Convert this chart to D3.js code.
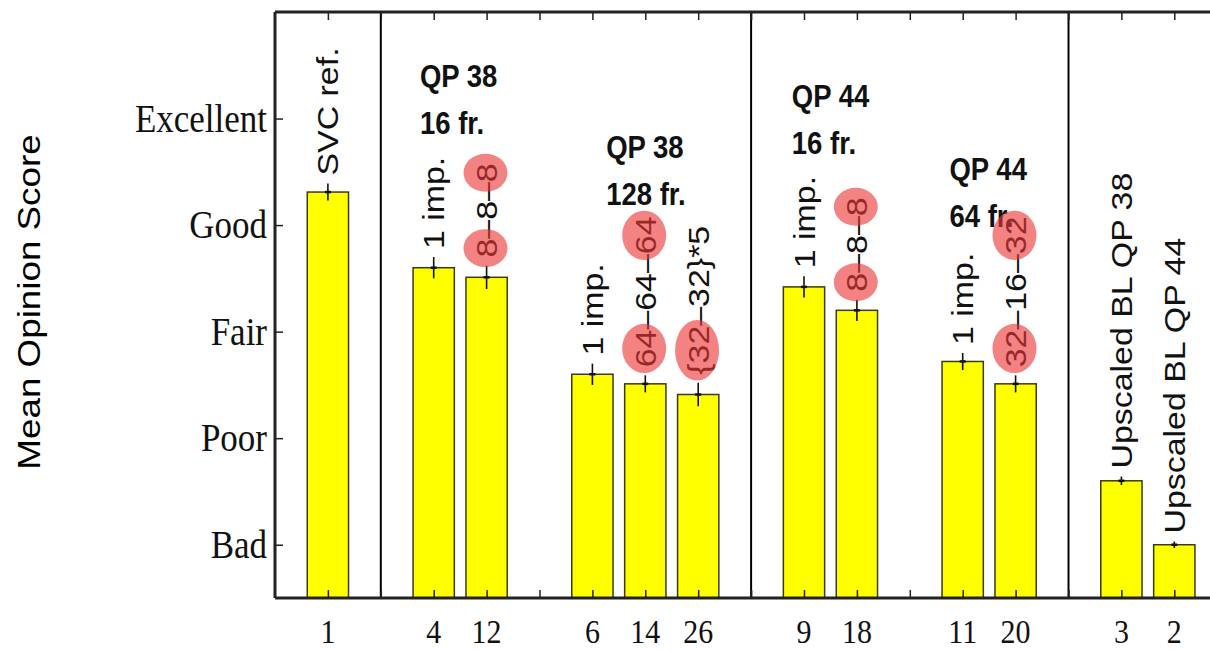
<!DOCTYPE html>
<html>
<head>
<meta charset="utf-8">
<script src="https://cdn.jsdelivr.net/npm/d3@7"></script>
<style>
  body { margin: 0; background: #fff; }
  svg { display: block; }
</style>
</head>
<body>
<div id="chart"></div>
<script>
// bar slots on the x axis, the sequence ids under them, and the scores
const slots = [1, 3, 4, 6, 7, 8, 10, 11, 13, 14, 16, 17];
const ids = ["1", "4", "12", "6", "14", "26", "9", "18", "11", "20", "3", "2"];
const mos = [4.31, 3.60, 3.51, 2.60, 2.51, 2.41, 3.42, 3.20, 2.72, 2.51, 1.60, 1.00];
const errs = [0.08, 0.10, 0.11, 0.10, 0.08, 0.11, 0.10, 0.10, 0.08, 0.08, 0.04, 0.03];
// [..] marks the part of a label that is circled in red
const barLabels = ["SVC ref.", "1 imp.", "[8]–8–[8]", "1 imp.", "[64]–64–[64]", "[{32]–32}*5",
  "1 imp.", "[8]–8–[8]", "1 imp.", "[32]–16–[32]", "Upscaled BL QP 38", "Upscaled BL QP 44"];
const separators = [2, 9, 15];
const scoreTicks = [1, 2, 3, 4, 5];
const scoreNames = ["Bad", "Poor", "Fair", "Good", "Excellent"];
const groupTitles = [["QP 38", "16 fr."], ["QP 38", "128 fr."], ["QP 44", "16 fr."], ["QP 44", "64 fr."]];
const groupSlot = [2.74, 6.26, 9.77, 12.75];
const groupScore = [5.30, 4.63, 5.11, 4.42];

let w = 1210;
let h = 652;
const SY = 1.15; // the figure is a bit taller than wide, so is its text
const serif = "'Liberation Serif', 'Times New Roman', serif";
const sans = "'Liberation Sans', Arial, sans-serif";

let svg = d3.select("#chart").append("svg")
  .attr("width", w)
  .attr("height", h)
  .attr("viewBox", "0 0 " + w + " " + h);

let x = d3.scaleLinear().domain([0, 18]).range([275, 275 + 18 * 52.9]);
let y = d3.scaleLinear().domain([0.5, 6]).range([598, 12]);
let barW = (x(1) - x(0)) * 0.78;

let bars = slots.map((s, i) => ({slot: s, id: ids[i], mos: mos[i], err: errs[i], label: barLabels[i]}));

// bars
svg.append("g").selectAll("rect").data(bars).join("rect")
  .attr("x", d => x(d.slot) - barW / 2)
  .attr("y", d => y(d.mos))
  .attr("width", barW)
  .attr("height", d => y(0.5) - y(d.mos))
  .attr("fill", "#ffff00")
  .attr("stroke", "#3a3a10")
  .attr("stroke-width", 1.5);

// error bars
let eb = svg.append("g").attr("stroke", "#111").attr("stroke-width", 1.6);
eb.selectAll(".v").data(bars).join("line")
  .attr("x1", d => x(d.slot)).attr("x2", d => x(d.slot))
  .attr("y1", d => y(d.mos + d.err)).attr("y2", d => y(d.mos - d.err));
eb.selectAll(".m").data(bars).join("line")
  .attr("x1", d => x(d.slot) - 3).attr("x2", d => x(d.slot) + 3)
  .attr("y1", d => y(d.mos)).attr("y2", d => y(d.mos))
  .attr("stroke-width", 2.5);

// group separators
svg.append("g").selectAll("line").data(separators).join("line")
  .attr("x1", d => x(d)).attr("x2", d => x(d))
  .attr("y1", y(6)).attr("y2", y(0.5))
  .attr("stroke", "#000")
  .attr("stroke-width", 2);

// inward ticks
let xTicks = d3.range(1, 18);
svg.append("g").attr("transform", `translate(0,${y(0.5)})`)
  .call(d3.axisBottom(x).tickValues(xTicks).tickSizeInner(-8).tickSizeOuter(0).tickFormat(""))
  .call(g => g.select(".domain").remove());
svg.append("g").attr("transform", `translate(0,${y(6)})`)
  .call(d3.axisTop(x).tickValues(xTicks).tickSizeInner(-8).tickSizeOuter(0).tickFormat(""))
  .call(g => g.select(".domain").remove());
svg.append("g").attr("transform", `translate(${x(0)},0)`)
  .call(d3.axisLeft(y).tickValues(scoreTicks).tickSizeInner(-8).tickSizeOuter(0).tickFormat(""))
  .call(g => g.select(".domain").remove());
svg.selectAll(".tick line").attr("stroke", "#222").attr("stroke-width", 1.5);

// frame
let frame = svg.append("g").attr("stroke", "#222").attr("stroke-width", 3).attr("fill", "none");
frame.append("line").attr("x1", x(0)).attr("x2", x(18)).attr("y1", y(0.5)).attr("y2", y(0.5));
frame.append("line").attr("x1", x(0)).attr("x2", x(18)).attr("y1", y(6)).attr("y2", y(6));
frame.append("line").attr("x1", x(0)).attr("x2", x(0)).attr("y1", y(6)).attr("y2", y(0.5));

// x tick labels
svg.append("g").selectAll("text").data(bars).join("text")
  .attr("transform", d => `translate(${x(d.slot)},643) scale(1,${SY})`)
  .attr("text-anchor", "middle")
  .attr("font-family", serif)
  .attr("font-size", 30)
  .attr("fill", "#111")
  .text(d => d.id);

// y tick labels
svg.append("g").selectAll("text").data(scoreTicks).join("text")
  .attr("transform", d => `translate(267,${y(d)}) scale(1,${SY})`)
  .attr("dy", "0.33em")
  .attr("text-anchor", "end")
  .attr("font-family", serif)
  .attr("font-size", 35)
  .attr("fill", "#111")
  .text((d, i) => scoreNames[i]);

// y title
svg.append("text")
  .attr("transform", `translate(40,302) scale(1,${SY}) rotate(-90)`)
  .attr("text-anchor", "middle")
  .attr("font-family", sans)
  .attr("font-size", 32)
  .attr("fill", "#000")
  .text("Mean Opinion Score");

// group titles
groupTitles.forEach((lines, i) => {
  lines.forEach((t, j) => {
    svg.append("text")
      .attr("transform", `translate(${x(groupSlot[i])},${y(groupScore[i]) + j * 47}) scale(1,${SY})`)
      .attr("font-family", sans)
      .attr("font-weight", "bold")
      .attr("font-size", 27.5)
      .attr("fill", "#111")
      .text(t);
  });
});

// rotated labels above the bars
const fs = 29.5;
let labs = svg.append("g").selectAll("g").data(bars).join("g")
  .attr("transform", d => `translate(${x(d.slot) + 10.5},${y(d.mos + d.err) - 8}) scale(1,${SY}) rotate(-90)`);

labs.each(function(d) {
  let g = d3.select(this);
  let parts = d.label.split(/(\[[^\]]*\])/).filter(p => p.length)
    .map(p => p[0] === "[" ? {t: p.slice(1, -1), hl: true} : {t: p, hl: false});
  let txt = g.append("text")
    .attr("font-family", sans)
    .attr("font-size", fs)
    .attr("fill", "#111")
    .style("white-space", "pre");
  let spans = parts.map(p => txt.append("tspan").text(p.t));
  let off = 0;
  parts.forEach((p, k) => {
    let len = spans[k].node().getComputedTextLength();
    if (p.hl) {
      g.append("ellipse")
        .attr("cx", off + len / 2)
        .attr("cy", -0.36 * fs - 1)
        .attr("rx", Math.max(len / 2 + 5, 16.5))
        .attr("ry", 22)
        .attr("fill", "rgb(235,55,55)")
        .attr("fill-opacity", 0.62);
    }
    off += len;
  });
});
</script>
</body>
</html>
